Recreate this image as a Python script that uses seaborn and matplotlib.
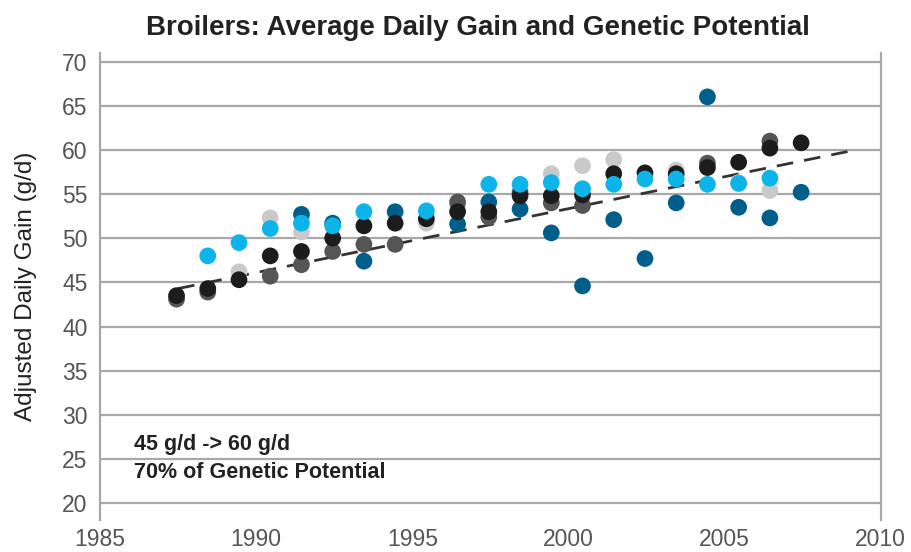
import numpy as np
import pandas as pd
import matplotlib
matplotlib.use("Agg")
import matplotlib.pyplot as plt
import seaborn as sns

# 연도 (점은 연도 중간쯤에 찍혀 있음)
years = list(range(1987, 2008))

# 시리즈별 값 (g/d), 없는 해는 NaN
nan = np.nan
black = [43.5, 44.3, 45.3, 48.0, 48.5, 50.0, 51.4, 51.7, 52.2, 53.0, 53.0,
         54.8, 54.8, 54.9, 57.3, 57.4, 57.3, 58.0, 58.6, 60.2, 60.8]
dark_grey = [43.1, 43.9, nan, 45.7, 47.0, 48.5, 49.3, 49.3, nan, 54.1, 52.4,
             55.2, 54.0, 53.7, nan, nan, nan, 58.5, nan, 61.0, nan]
light_grey = [nan, nan, 46.2, 52.3, 50.7, nan, nan, nan, 51.7, 53.7, nan,
              nan, 57.3, 58.2, 58.9, nan, 57.7, nan, 56.3, 55.4, nan]
cyan = [nan, 48.0, 49.5, 51.1, 51.7, 51.4, 53.0, nan, 53.1, nan, 56.1,
        56.1, 56.3, 55.6, 56.1, 56.7, 56.7, 56.1, 56.2, 56.8, nan]
dark_blue = [nan, nan, nan, nan, 52.7, 51.7, 47.4, 53.0, nan, 51.6, 54.1,
             53.3, 50.6, 44.6, 52.1, 47.7, 54.0, 66.0, 53.5, 52.3, 55.2]

# 유전적 잠재력 추세선 (45 -> 60 g/d)
trend_x = [1987.5, 2009.2]
trend_y = [44.3, 60.0]

series = {"light grey": light_grey, "dark grey": dark_grey,
          "dark blue": dark_blue, "black": black, "cyan": cyan}
colors = {"light grey": "#c9c9c9", "dark grey": "#555555",
          "dark blue": "#005f8a", "black": "#1c1c1c", "cyan": "#0db4ea"}

rows = []
for name, vals in series.items():
    for y, v in zip(years, vals):
        if not np.isnan(v):
            rows.append({"year": y + 0.45, "gain": v, "series": name})
df = pd.DataFrame(rows)

sns.set_style("white")
plt.rcParams['font.family'] = ['Liberation Sans', 'DejaVu Sans']

fig = plt.figure(figsize=(9.11, 5.52), dpi=100)
ax = fig.add_axes([0.1098, 0.058, 0.857, 0.8465])

for y in range(20, 75, 5):
    ax.axhline(y, color="#a8a8a8", lw=1.6, zorder=0)

ax.plot(trend_x, trend_y, color="#333333", lw=2, dashes=(6, 4), zorder=1)

sns.scatterplot(data=df, x="year", y="gain", hue="series", palette=colors,
                hue_order=list(series.keys()), s=145, linewidth=0,
                legend=False, ax=ax, zorder=2)

ax.set_xlim(1985, 2010)
ax.set_ylim(18.1, 71)
ax.set_xticks(range(1985, 2011, 5))
ax.set_yticks(range(20, 75, 5))

for side in ["top", "bottom"]:
    ax.spines[side].set_visible(False)
for side in ["left", "right"]:
    ax.spines[side].set_color("#a8a8a8")
    ax.spines[side].set_linewidth(1.6)

ax.tick_params(axis="y", direction="out", length=7, width=1.2, color="#a8a8a8",
               labelsize=16.5, labelcolor="#555555", pad=2)
ax.tick_params(axis="x", direction="in", length=12.5, width=1.2, color="#a8a8a8",
               labelsize=16.5, labelcolor="#555555", pad=6)
ax.set_xlabel("")
ax.set_ylabel("Adjusted Daily Gain (g/d)", fontsize=17.5, color="#222222",
              labelpad=18)

ax.text(1986.1, 26.7, "45 g/d -> 60 g/d", fontsize=15.5, fontweight="bold",
        color="#222222", va="center")
ax.text(1986.1, 23.5, "70% of Genetic Potential", fontsize=15.5, fontweight="bold",
        color="#222222", va="center")

fig.text(0.525, 0.95, "Broilers: Average Daily Gain and Genetic Potential",
         fontsize=20, fontweight="bold", color="#222222", ha="center", va="center")

plt.savefig("out.png", dpi=100)
